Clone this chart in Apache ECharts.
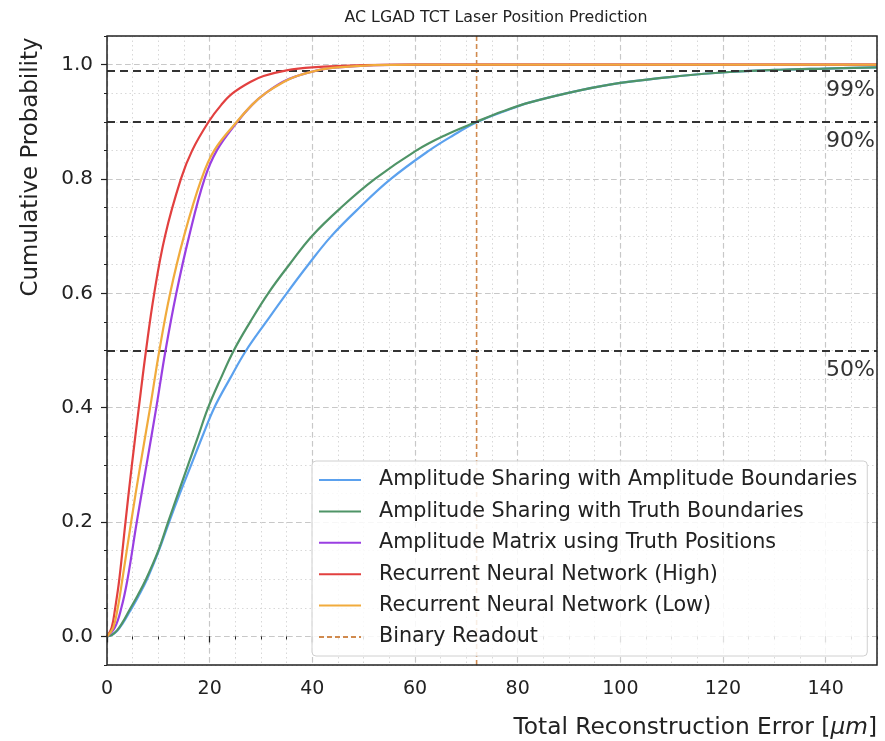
<!DOCTYPE html>
<html>
<head>
<meta charset="utf-8">
<script src="https://cdn.jsdelivr.net/npm/echarts@6/dist/echarts.min.js"></script>
<style>html,body{margin:0;padding:0;background:#fff}#c{width:885px;height:741px}</style>
</head>
<body>
<div id="c"></div>
<script>
// ---- data (error in um, cumulative probability) ----
const seriesNames = [
  'Amplitude Sharing with Amplitude Boundaries',
  'Amplitude Sharing with Truth Boundaries',
  'Amplitude Matrix using Truth Positions',
  'Recurrent Neural Network (High)',
  'Recurrent Neural Network (Low)',
  'Binary Readout'
];
const errAmpBound = [0, 1, 2, 3, 4.4, 6.1, 7.8, 10.1, 12.1, 14.2, 16.4, 18.6, 20.9, 23.9, 27.1, 31, 35, 39.2, 43.7, 49.2, 55.3, 62.8, 67.4, 72, 77, 82.4, 92.1, 100, 111.6, 121.3, 131, 140, 150];
const cdfAmpBound = [0, 0.003, 0.01, 0.022, 0.043, 0.07, 0.1, 0.15, 0.2, 0.25, 0.3, 0.35, 0.4, 0.45, 0.5, 0.55, 0.6, 0.65, 0.7, 0.75, 0.8, 0.85, 0.876, 0.899, 0.917, 0.934, 0.955, 0.968, 0.98, 0.987, 0.991, 0.993, 0.995];
const errTruthBound = [0, 1, 2, 3, 4.3, 6, 7.6, 10, 11.9, 13.85, 15.8, 17.75, 19.7, 22.1, 24.7, 27.9, 31.4, 35.5, 39.9, 45.6, 52.2, 60.3, 66, 72, 77, 82.4, 92.1, 100, 111.6, 121.3, 131, 140, 150];
const cdfTruthBound = [0, 0.003, 0.011, 0.024, 0.045, 0.072, 0.1, 0.15, 0.2, 0.25, 0.3, 0.35, 0.4, 0.45, 0.5, 0.55, 0.6, 0.65, 0.7, 0.75, 0.8, 0.85, 0.877, 0.9, 0.918, 0.934, 0.955, 0.968, 0.98, 0.987, 0.991, 0.993, 0.995];
const errMatrix = [0, 1.5, 2.8, 4.0, 5.8, 7.7, 9.6, 11.4, 13.5, 16.0, 19.0, 21.4, 25.4, 28.3, 30.9, 34.3, 37, 41, 45, 52, 60, 150];
const cdfMatrix = [0, 0.015, 0.05, 0.1, 0.2, 0.3, 0.4, 0.5, 0.6, 0.7, 0.8, 0.85, 0.9, 0.93, 0.95, 0.97, 0.98, 0.99, 0.995, 0.999, 1.0, 1.0];
const errRNNHigh = [0, 0.9, 1.6, 2.4, 3.6, 4.85, 6.2, 7.6, 9.2, 11.3, 14.4, 16.6, 19.8, 22.3, 24.5, 28, 30.5, 35, 40, 50, 60, 150];
const cdfRNNHigh = [0, 0.015, 0.05, 0.1, 0.2, 0.3, 0.4, 0.5, 0.6, 0.7, 0.8, 0.85, 0.9, 0.93, 0.95, 0.97, 0.98, 0.99, 0.995, 0.999, 1.0, 1.0];
const errRNNLow = [0, 1.2, 2.1, 3.0, 4.7, 6.5, 8.4, 10.2, 12.3, 15.0, 18.4, 20.9, 25.3, 28.3, 30.9, 34.5, 37, 41, 45, 52, 60, 150];
const cdfRNNLow = [0, 0.015, 0.05, 0.1, 0.2, 0.3, 0.4, 0.5, 0.6, 0.7, 0.8, 0.85, 0.9, 0.93, 0.95, 0.97, 0.98, 0.99, 0.995, 0.999, 1.0, 1.0];
const binaryReadoutErr = [72, 72];
const binaryReadoutCdf = [-0.05, 1.05];
const thresholdLevels = [0.5, 0.9, 0.99];
const thresholdLabels = ['50%', '90%', '99%'];
const xTickValues = [0, 20, 40, 60, 80, 100, 120, 140];
const yTickValues = [0, 0.2, 0.4, 0.6, 0.8, 1.0];

// ---- styling ----
const colors = ['#5ba1ee', '#4f9467', '#9a3fe2', '#e2403f', '#f1ab3c', '#d08a4e'];
const FONT = 'DejaVu Sans';
const zip = (a, b) => a.map((v, i) => [v, b[i]]);

const curves = [
  [errAmpBound, cdfAmpBound],
  [errTruthBound, cdfTruthBound],
  [errMatrix, cdfMatrix],
  [errRNNHigh, cdfRNNHigh],
  [errRNNLow, cdfRNNLow]
];

const series = curves.map((c, i) => ({
  name: seriesNames[i],
  type: 'line',
  data: zip(c[0], c[1]),
  smooth: 0.4,
  showSymbol: false,
  symbol: 'none',
  z: 3 + i,
  lineStyle: { color: colors[i], width: 2.2 },
  itemStyle: { color: colors[i] }
}));

series.push({
  name: seriesNames[5],
  type: 'line',
  data: zip(binaryReadoutErr, binaryReadoutCdf),
  showSymbol: false,
  symbol: 'none',
  z: 2,
  lineStyle: { color: colors[5], width: 1.6, type: [5, 3] },
  itemStyle: { color: colors[5] },
  markLine: {
    silent: true,
    symbol: 'none',
    lineStyle: { color: '#333', width: 2, type: [8, 5] },
    label: {
      position: 'insideEndBottom',
      color: '#333',
      fontFamily: FONT,
      fontSize: 22,
      distance: [2, 9]
    },
    data: thresholdLevels.map((v, i) => ({ yAxis: v, label: { formatter: thresholdLabels[i] } }))
  }
});

const chart = echarts.init(document.getElementById('c'), null, { renderer: 'canvas' });
chart.setOption({
  backgroundColor: '#fff',
  animation: false,
  title: {
    text: 'AC LGAD TCT Laser Position Prediction',
    left: 491,
    top: 5,
    textAlign: 'center',
    textStyle: { fontFamily: FONT, fontSize: 15.8, fontWeight: 'normal', color: '#222' }
  },
  grid: {
    left: 107, right: 8, top: 36, bottom: 76,
    show: true, borderColor: '#222', borderWidth: 1.5, backgroundColor: 'transparent', z: 10
  },
  legend: {
    orient: 'vertical',
    left: 312,
    top: 461,
    padding: [7, 10, 7, 6],
    itemWidth: 42,
    itemHeight: 2,
    itemGap: 7.4,
    backgroundColor: 'rgba(255,255,255,0.85)',
    borderColor: '#d0d0d0',
    borderWidth: 1,
    borderRadius: 4,
    itemStyle: { opacity: 0 },
    textStyle: { fontFamily: FONT, fontSize: 20.7, color: '#222', lineHeight: 24, padding: [0, 0, 0, 13] },
    data: seriesNames
  },
  xAxis: [
    {
      type: 'value', min: 0, max: 150, interval: 5,
      axisLine: { show: false },
      axisTick: { show: true, length: 3, lineStyle: { color: '#222', width: 1 } },
      axisLabel: { show: false },
      splitLine: { show: true, lineStyle: { color: '#d8d8d8', width: 1, type: [1.5, 3] } }
    },
    {
      type: 'value', min: 0, max: 150, position: 'bottom',
      axisLine: { show: false },
      axisTick: { show: true, length: 6, customValues: xTickValues, lineStyle: { color: '#222', width: 1.2 } },
      axisLabel: { show: true, customValues: xTickValues, margin: 15, fontFamily: FONT, fontSize: 19, color: '#222' },
      splitLine: { show: true, lineStyle: { color: '#c8c8c8', width: 1.2, type: [5, 4] } }
    }
  ],
  yAxis: [
    {
      type: 'value', min: -0.05, max: 1.05, interval: 0.05,
      axisLine: { show: false },
      axisTick: { show: true, length: 3, lineStyle: { color: '#222', width: 1 } },
      axisLabel: { show: false },
      splitLine: { show: true, lineStyle: { color: '#d8d8d8', width: 1, type: [1.5, 3] } }
    },
    {
      type: 'value', min: -0.05, max: 1.05, position: 'left',
      axisLine: { show: false },
      axisTick: { show: true, length: 6, customValues: yTickValues, lineStyle: { color: '#222', width: 1.2 } },
      axisLabel: { show: true, customValues: yTickValues, margin: 14, fontFamily: FONT, fontSize: 20, color: '#222',
        formatter: v => Number(v).toFixed(1) },
      splitLine: { show: true, lineStyle: { color: '#c8c8c8', width: 1.2, type: [5, 4] } }
    }
  ],
  graphic: [
    {
      type: 'text', x: 31, y: 167, rotation: Math.PI / 2,
      style: { text: 'Cumulative Probability', fontFamily: FONT, fontSize: 22.9, fill: '#222', align: 'center', verticalAlign: 'middle' }
    },
    {
      type: 'text', x: 877, y: 728,
      style: {
        text: 'Total Reconstruction Error [{i|μm}]',
        fontFamily: FONT, fontSize: 23.3, fill: '#222', align: 'right', verticalAlign: 'middle',
        rich: { i: { fontFamily: FONT, fontSize: 23.3, fontStyle: 'italic', fill: '#222' } }
      }
    }
  ],
  series: series
});
</script>
</body>
</html>
